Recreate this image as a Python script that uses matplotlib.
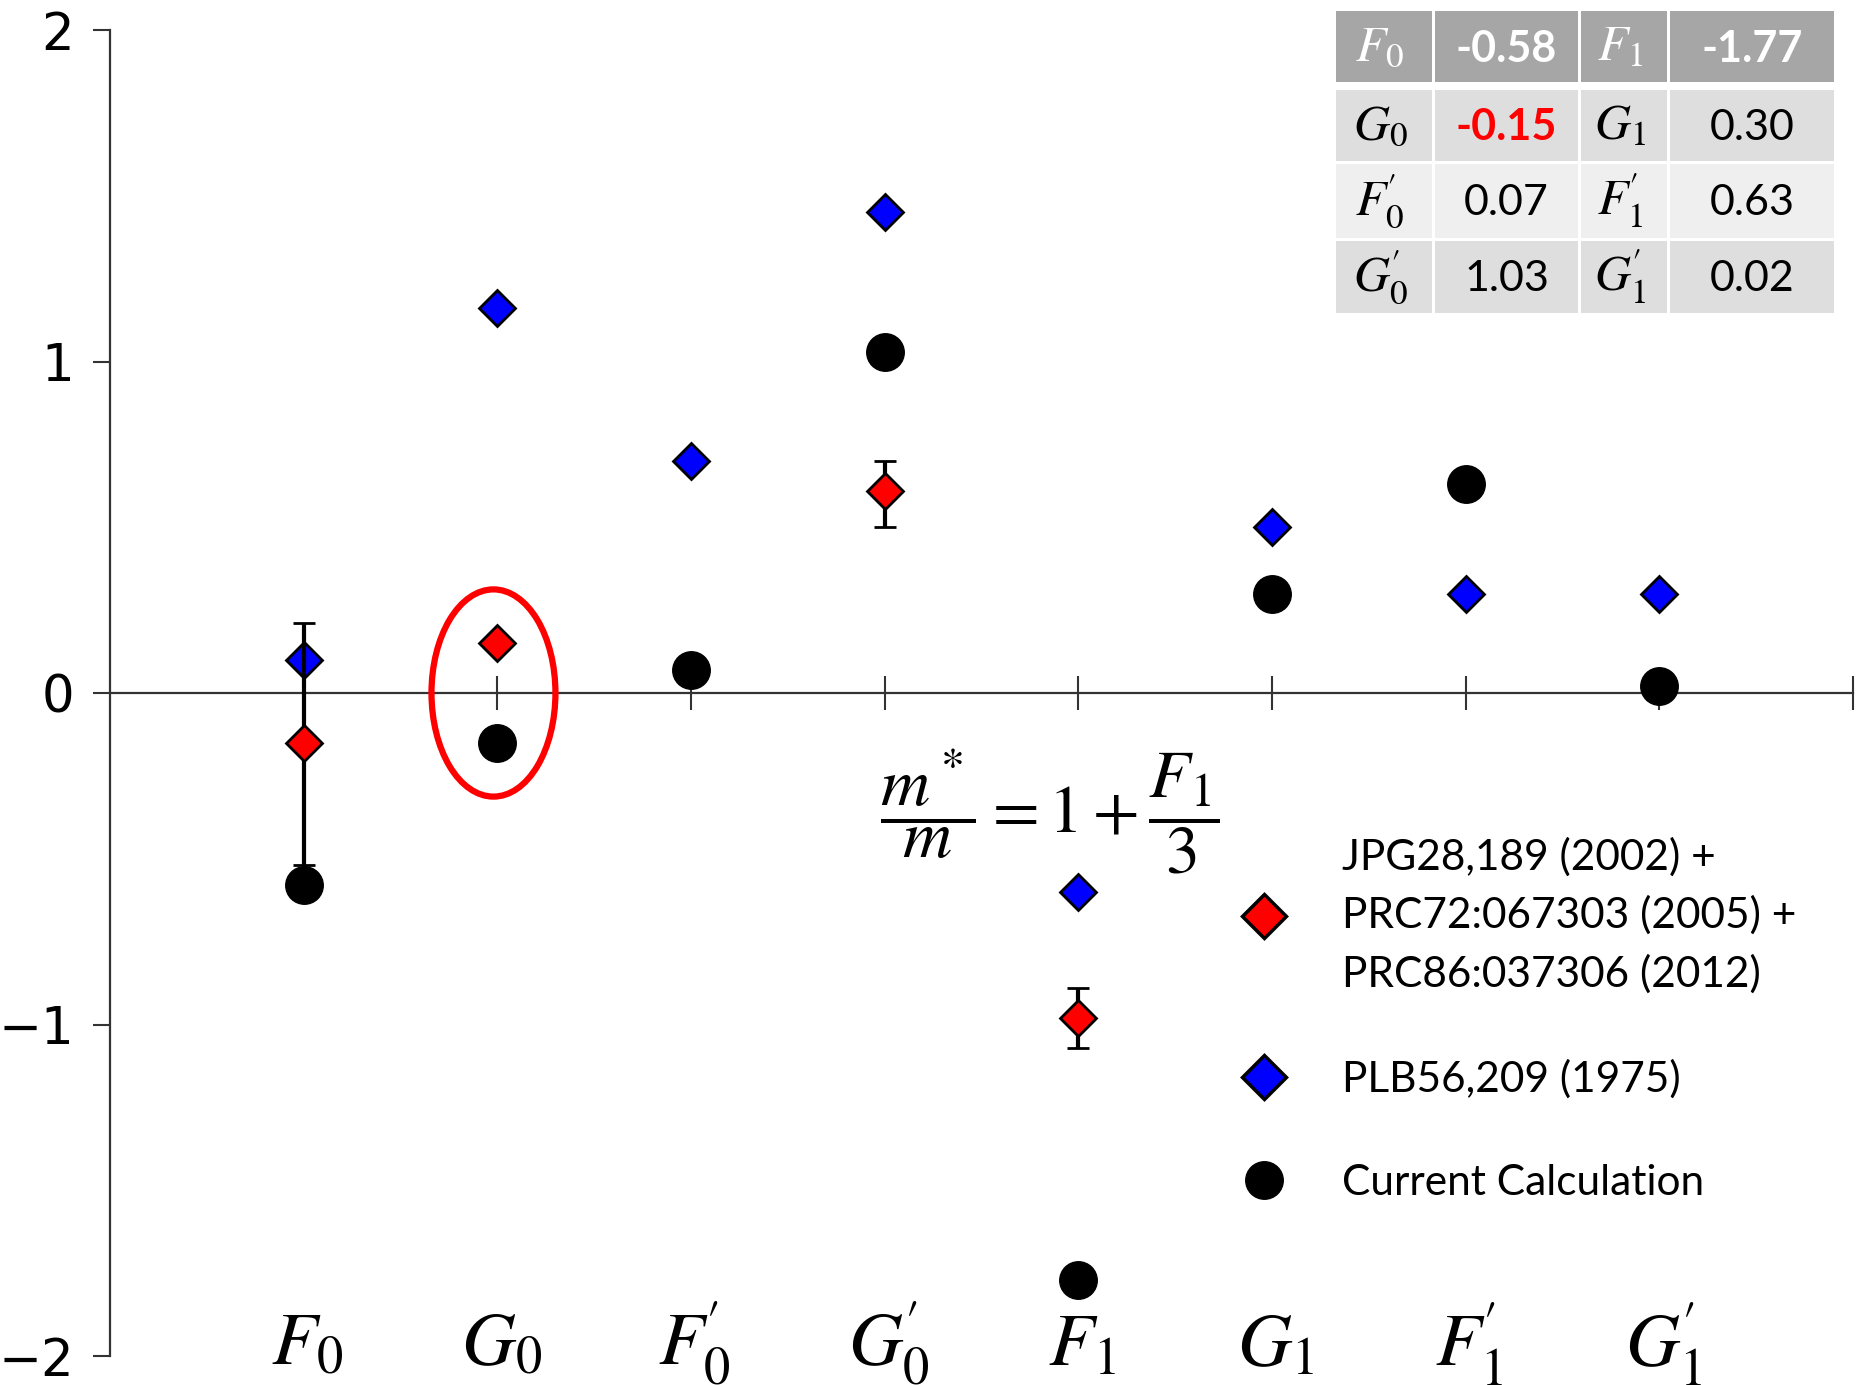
import matplotlib
matplotlib.use("Agg")
import matplotlib.pyplot as plt
from matplotlib.patches import Ellipse, Rectangle
from matplotlib.lines import Line2D

plt.rcParams['mathtext.fontset'] = 'stix'

# categories (Landau parameters)
params = [r"$F_0$", r"$G_0$", r"$F_0^{\!\prime}$", r"$G_0^{\!\prime}$",
          r"$F_1$", r"$G_1$", r"$F_1^{\!\prime}$", r"$G_1^{\!\prime}$"]
xpos = [1, 2, 3, 4, 5, 6, 7, 8]

# PLB56,209 (1975)
plb_vals = [0.10, 1.16, 0.70, 1.45, -0.60, 0.50, 0.30, 0.30]
# current calculation
calc_vals = [-0.58, -0.15, 0.07, 1.03, -1.77, 0.30, 0.63, 0.02]
# JPG + PRC combined, only for some parameters
jpg_x = [1, 2, 4, 5]
jpg_vals = [-0.15, 0.15, 0.61, -0.98]
jpg_err_lo = [0.37, 0.0, 0.11, 0.09]
jpg_err_hi = [0.36, 0.0, 0.09, 0.09]

legend_labels = ["JPG28,189 (2002) +\nPRC72:067303 (2005) +\nPRC86:037306 (2012)",
                 "PLB56,209 (1975)",
                 "Current Calculation"]

# table in upper right corner
tab_rows = [
    [r"$F_0$", "-0.58", r"$F_1$", "-1.77"],
    [r"$G_0$", "-0.15", r"$G_1$", "0.30"],
    [r"$F_0^{\!\prime}$", "0.07", r"$F_1^{\!\prime}$", "0.63"],
    [r"$G_0^{\!\prime}$", "1.03", r"$G_1^{\!\prime}$", "0.02"],
]

W, H = 1857, 1385
fig = plt.figure(figsize=(W / 100, H / 100), dpi=100)
ax = fig.add_axes([110 / W, 1 - 1356 / H, (1853 - 110) / W, (1356 - 30) / H])

axcol = '#333333'
ax.set_xlim(0, 9)
ax.set_ylim(-2, 2)
ax.spines['top'].set_visible(False)
ax.spines['right'].set_visible(False)
ax.spines['bottom'].set_position(('data', 0))
ax.spines['bottom'].set_color(axcol)
ax.spines['left'].set_color(axcol)
ax.spines['bottom'].set_linewidth(1.6)
ax.spines['left'].set_linewidth(1.6)

ax.set_yticks([-2, -1, 0, 1, 2])
ax.tick_params(axis='y', direction='out', length=12, width=1.5, color=axcol,
               labelsize=37, pad=14)
ax.set_xticks(range(1, 10))
ax.tick_params(axis='x', direction='inout', length=24, width=1.5, color=axcol,
               labelbottom=False)

for x, lab in zip(xpos, params):
    ax.text(x + 0.02, -1.965, lab, fontsize=54, ha='center', va='center', clip_on=False)

# markers
ax.plot(xpos, calc_vals, 'o', color='black', ms=27, zorder=3, clip_on=False)
ax.plot(xpos, plb_vals, 'D', mfc='blue', mec='black', mew=2, ms=18, zorder=4)
ax.errorbar(jpg_x, jpg_vals, yerr=[jpg_err_lo, jpg_err_hi], fmt='D', mfc='red',
            mec='black', mew=2, ms=18, ecolor='black', elinewidth=3, capsize=8,
            capthick=3, zorder=5)

# highlight G0
ax.add_patch(Ellipse((1.98, 0), 0.64, 0.625, fill=False, ec='red', lw=4.5, zorder=6))

ax.text(4.85, -0.36, r"$\dfrac{m^*}{m} = 1 + \dfrac{F_1}{3}$", fontsize=49,
        ha='center', va='center')

handles = [
    Line2D([], [], ls='none', marker='D', mfc='red', mec='black', mew=2.5, ms=22),
    Line2D([], [], ls='none', marker='D', mfc='blue', mec='black', mew=2.5, ms=22),
    Line2D([], [], ls='none', marker='o', color='black', ms=27),
]
leg = ax.legend(handles, legend_labels, loc='upper left', frameon=False,
                bbox_to_anchor=(1243 / W, 1 - 837 / H), bbox_transform=fig.transFigure,
                prop={'family': 'Lato', 'size': 30.5}, handlelength=1.0,
                handletextpad=1.335, borderpad=0, borderaxespad=0, labelspacing=1.55)
for t in leg.get_texts():
    t.set_linespacing(1.59)

# table overlay
ov = fig.add_axes([0, 0, 1, 1], zorder=10)
ov.set_xlim(0, W)
ov.set_ylim(H, 0)
ov.axis('off')
col_edges = [(1336, 1432), (1435, 1578), (1581, 1667), (1670, 1834)]
row_edges = [(11, 82), (90, 161), (164, 238), (241, 313)]
row_bg = ['#a6a6a6', '#dedede', '#efefef', '#dedede']
for r, (y0, y1) in enumerate(row_edges):
    for c, (x0, x1) in enumerate(col_edges):
        ov.add_patch(Rectangle((x0, y0), x1 - x0, y1 - y0, fc=row_bg[r], ec='none'))
        txt = tab_rows[r][c]
        cx, cy = (x0 + x1) / 2, (y0 + y1) / 2
        if c % 2 == 0:
            ov.text(cx - 4, cy, txt, fontsize=36, ha='center', va='center',
                    color='white' if r == 0 else 'black')
        else:
            color = 'white' if r == 0 else ('red' if (r, c) == (1, 1) else 'black')
            weight = 'bold' if r == 0 or (r, c) == (1, 1) else 'normal'
            ov.text(cx, cy + 2, txt, fontsize=31, family='Lato', ha='center', va='center',
                    color=color, fontweight=weight)

fig.savefig("out.png", dpi=100)
